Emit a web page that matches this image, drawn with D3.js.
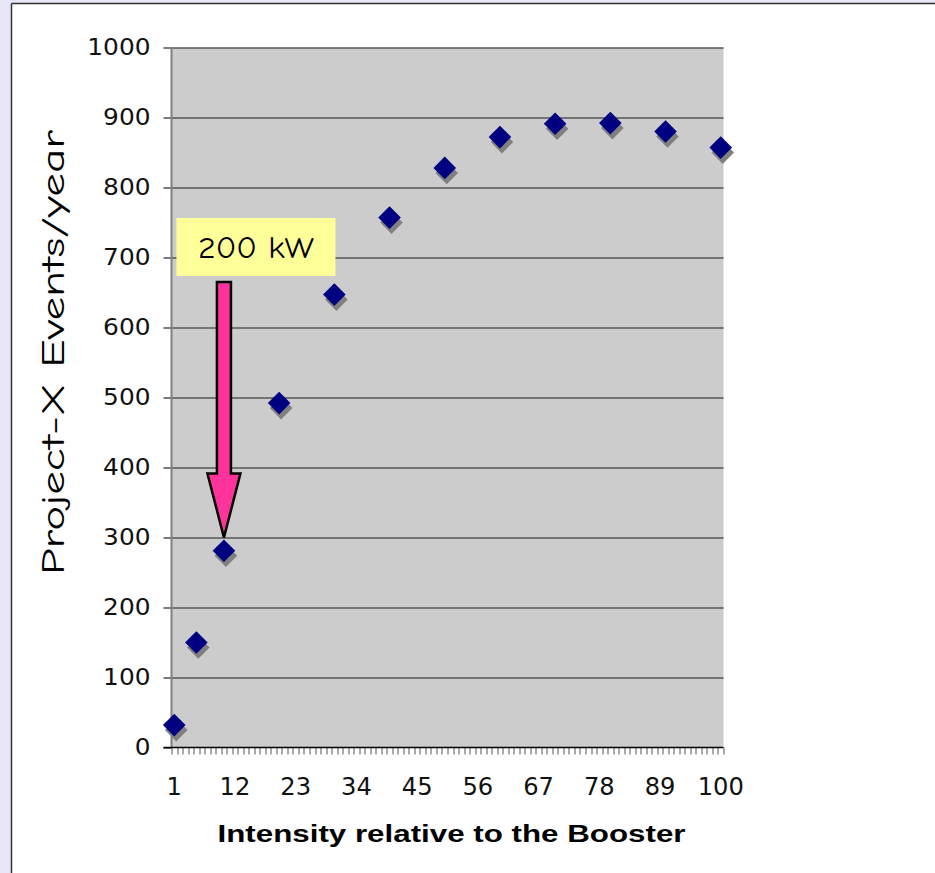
<!DOCTYPE html>
<html>
<head>
<meta charset="utf-8">
<script src="https://cdn.jsdelivr.net/npm/d3@7"></script>
<style>
  html, body { margin: 0; padding: 0; background: #e6e6f8; }
  svg { display: block; }
</style>
</head>
<body>
<div id="chart"></div>
<script>
// chart data
const categories = d3.range(1, 101);           // category axis 1..100
const xTickLabels = [1, 12, 23, 34, 45, 56, 67, 78, 89, 100];
const yTicks = [0, 100, 200, 300, 400, 500, 600, 700, 800, 900, 1000];
const intensity = [1, 5, 10, 20, 30, 40, 50, 60, 70, 80, 90, 100];
const events = [32, 150, 281, 492, 647, 757, 828, 872, 891, 892, 880, 857];
const arrowNote = { x: 10, from: 665, to: 300, label: "200 kW" };

const W = 935, H = 873;
const margin = { top: 47.5, left: 171.5, right: 211.5, bottom: 125.5 };
const width = W - margin.left - margin.right;
const height = H - margin.top - margin.bottom;

const root = d3.select("#chart").append("svg")
    .attr("width", W)
    .attr("height", H);

// slide frame
root.append("rect").attr("x", 0).attr("y", 0).attr("width", W).attr("height", H).attr("fill", "#e6e6f8");
root.append("rect").attr("x", 11.5).attr("y", 3.5).attr("width", W).attr("height", H).attr("fill", "#fff");
root.append("line").attr("x1", 11.5).attr("x2", 11.5).attr("y1", 3.5).attr("y2", H).attr("stroke", "#333").attr("stroke-width", 1.5);
root.append("line").attr("x1", 11.5).attr("x2", W).attr("y1", 3.5).attr("y2", 3.5).attr("stroke", "#333").attr("stroke-width", 1.5);

const svg = root.append("g")
    .attr("transform", `translate(${margin.left},${margin.top})`);

const x = d3.scaleBand()
    .domain(categories)
    .range([0, width])
    .padding(0);

const xc = d => x(d) + x.bandwidth() / 2;

const y = d3.scaleLinear()
    .domain([0, 1000])
    .range([height, 0]);

// plot area
svg.append("rect")
    .attr("width", width)
    .attr("height", height)
    .attr("fill", "#cccccc");

// gridlines
svg.append("g")
    .selectAll("line")
    .data(yTicks.filter(d => d > 0))
    .join("line")
    .attr("x1", 0)
    .attr("x2", width)
    .attr("y1", d => Math.round(y(d)) + 0.5)
    .attr("y2", d => Math.round(y(d)) + 0.5)
    .attr("stroke", "#1a1a1a")
    .attr("stroke-width", 1.2);

// y axis
const yAxis = svg.append("g")
    .call(d3.axisLeft(y).tickValues(yTicks).tickFormat(d3.format("d")).tickSize(8).tickPadding(13));
yAxis.select(".domain").remove();
yAxis.selectAll(".tick line").attr("stroke", "#222").attr("stroke-width", 1.2);
yAxis.selectAll("text")
    .attr("font-family", "'DejaVu Sans', Verdana, sans-serif")
    .attr("font-size", 22.5)
    .attr("textLength", d => String(d).length * 15.8)
    .attr("lengthAdjust", "spacingAndGlyphs")
    .attr("fill", "#111");

svg.append("line")
    .attr("x1", 0).attr("x2", 0)
    .attr("y1", 0).attr("y2", height)
    .attr("stroke", "#808080")
    .attr("stroke-width", 2);

// x axis: minor ticks at category boundaries
const bounds = categories.map(c => x(c)).concat([width]);
svg.append("g")
    .selectAll("line")
    .data(bounds)
    .join("line")
    .attr("x1", d => Math.round(d) + 0.5)
    .attr("x2", d => Math.round(d) + 0.5)
    .attr("y1", height)
    .attr("y2", height + 7)
    .attr("stroke", "#555")
    .attr("stroke-width", 1);

svg.append("line")
    .attr("x1", -8).attr("x2", width)
    .attr("y1", height).attr("y2", height)
    .attr("stroke", "#000")
    .attr("stroke-width", 1.5);

const xAxis = svg.append("g")
    .attr("transform", `translate(0,${height})`)
    .call(d3.axisBottom(x).tickValues(xTickLabels).tickSize(0).tickPadding(30));
xAxis.select(".domain").remove();
xAxis.selectAll("text")
    .attr("font-family", "'DejaVu Sans', Verdana, sans-serif")
    .attr("font-size", 24.5)
    .attr("textLength", d => String(d).length * 15.4)
    .attr("lengthAdjust", "spacingAndGlyphs")
    .attr("fill", "#111");

// markers (with shadow)
const pts = intensity.map((d, i) => ({ x: d, y: events[i] }));
const diamond = "M0,-11.3L11.3,0L0,11.3L-11.3,0Z";

svg.append("g")
    .selectAll("path")
    .data(pts)
    .join("path")
    .attr("d", diamond)
    .attr("transform", d => `translate(${xc(d.x) + 2},${y(d.y) + 5})`)
    .attr("fill", "#808080");

svg.append("g")
    .selectAll("path")
    .data(pts)
    .join("path")
    .attr("d", diamond)
    .attr("transform", d => `translate(${xc(d.x)},${y(d.y)})`)
    .attr("fill", "#000080");

// annotation arrow + label
const ax = xc(arrowNote.x);
const aTop = y(arrowNote.from);
const aTip = y(arrowNote.to);
const headLen = 64, shaftW = 7, headW = 16.5;
const arrowPath = [
    [ax - shaftW, aTop], [ax + shaftW, aTop],
    [ax + shaftW, aTip - headLen], [ax + headW, aTip - headLen],
    [ax, aTip],
    [ax - headW, aTip - headLen], [ax - shaftW, aTip - headLen]
];
svg.append("path")
    .attr("d", d3.line()(arrowPath) + "Z")
    .attr("fill", "#ff3399")
    .attr("stroke", "#000")
    .attr("stroke-width", 2.5)
    .attr("stroke-linejoin", "miter");

svg.append("rect")
    .attr("x", ax - 47.5)
    .attr("y", aTop - 64)
    .attr("width", 159)
    .attr("height", 58)
    .attr("fill", "#ffff99");

svg.append("text")
    .attr("x", ax + 32)
    .attr("y", aTop - 24)
    .attr("text-anchor", "middle")
    .attr("font-family", "'Comic Sans MS', 'Comic Neue', 'DejaVu Sans', sans-serif")
    .attr("font-size", 31)
    .attr("textLength", 116)
    .attr("lengthAdjust", "spacingAndGlyphs")
    .attr("fill", "#000")
    .text(arrowNote.label);

// axis titles
svg.append("text")
    .attr("transform", "rotate(-90)")
    .attr("x", -(y(0) + y(1000)) / 2 + 45)
    .attr("y", -108)
    .attr("text-anchor", "middle")
    .attr("font-family", "'Comic Sans MS', 'Comic Neue', 'DejaVu Sans', sans-serif")
    .attr("font-size", 33)
    .attr("textLength", 445)
    .attr("lengthAdjust", "spacingAndGlyphs")
    .attr("fill", "#000")
    .text("Project-X Events/year");

svg.append("text")
    .attr("x", width / 2 + 4)
    .attr("y", height + 94)
    .attr("text-anchor", "middle")
    .attr("font-family", "'Liberation Sans', Arial, sans-serif")
    .attr("font-weight", "bold")
    .attr("font-size", 23)
    .attr("textLength", 468)
    .attr("lengthAdjust", "spacingAndGlyphs")
    .attr("fill", "#000")
    .text("Intensity relative to the Booster");
</script>
</body>
</html>
